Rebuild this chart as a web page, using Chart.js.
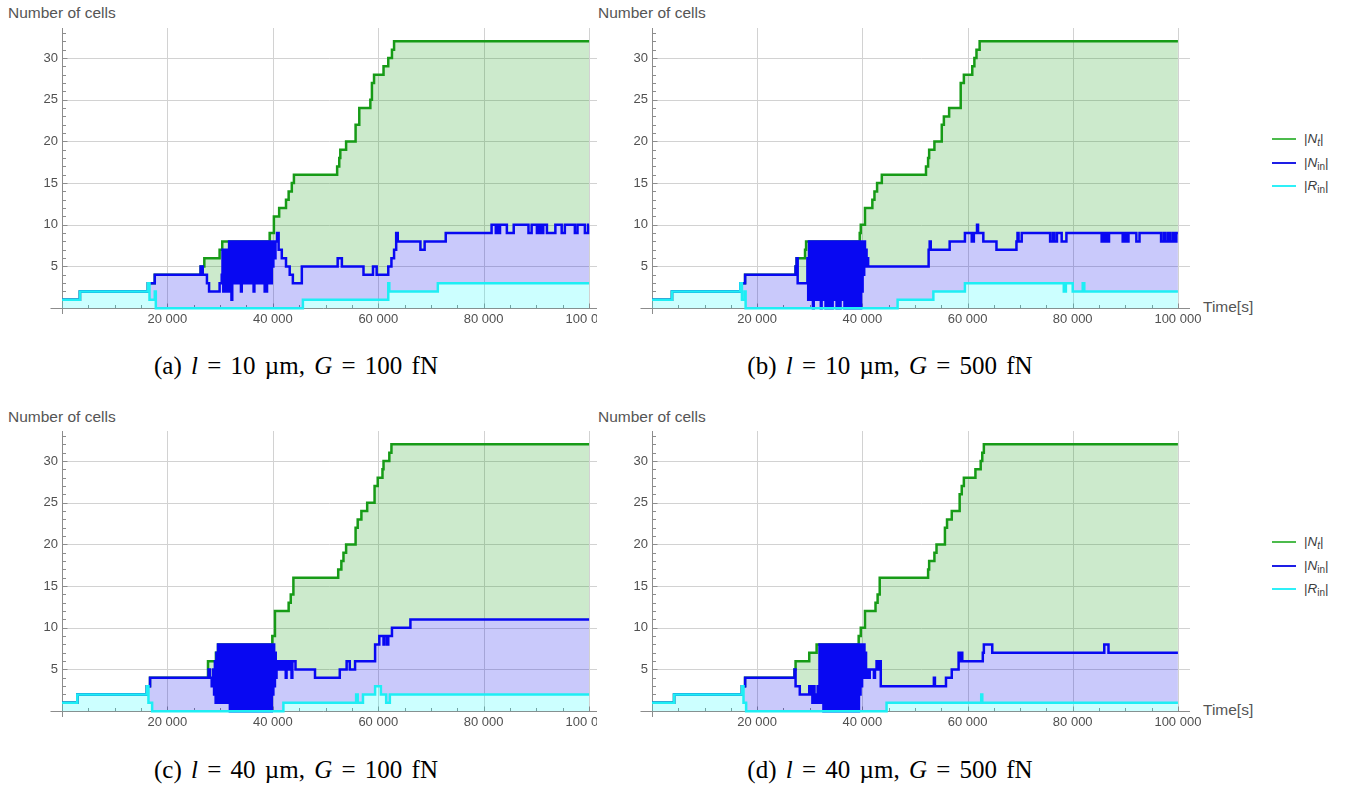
<!DOCTYPE html>
<html>
<head>
<meta charset="utf-8">
<script src="https://cdn.jsdelivr.net/npm/chart.js@4.4.0/dist/chart.umd.min.js"></script>
<style>
  body { margin: 0; background: #fff; width: 1354px; height: 787px; position: relative; overflow: hidden; font-family: "Liberation Sans", Arial, sans-serif; }
  canvas { position: absolute; }
  .axis-title { position: absolute; font-size: 15.5px; color: #555; white-space: nowrap; line-height: 18px; }
  .caption { position: absolute; font-family: "Liberation Serif", "DejaVu Serif", serif; font-size: 25px; word-spacing: 3px; color: #000; white-space: nowrap; transform: translateX(-50%); line-height: 28px; }
  .legend { position: absolute; left: 1272px; font-size: 13.5px; color: #3d3d3d; }
  .legend .item { height: 23.5px; line-height: 23.5px; white-space: nowrap; }
  .legend .swatch { display: inline-block; width: 24px; height: 2px; vertical-align: middle; margin-right: 8px; }
  .legend sub { font-size: 10px; vertical-align: -3px; line-height: 0; }
</style>
</head>
<body>

<canvas id="chartA" width="597" height="308" style="left:0px;top:28px"></canvas>
<canvas id="chartB" width="604" height="308" style="left:598px;top:28px"></canvas>
<canvas id="chartC" width="597" height="308" style="left:0px;top:431px"></canvas>
<canvas id="chartD" width="604" height="308" style="left:598px;top:431px"></canvas>

<div class="axis-title" style="left:8px;top:4px">Number of cells</div>
<div class="axis-title" style="left:598px;top:4px">Number of cells</div>
<div class="axis-title" style="left:8px;top:408px">Number of cells</div>
<div class="axis-title" style="left:598px;top:408px">Number of cells</div>
<div class="axis-title" style="left:1203px;top:298px">Time[s]</div>
<div class="axis-title" style="left:1203px;top:701px">Time[s]</div>

<div class="caption" style="left:296px;top:352px">(a) <i>l</i> = 10 µm, <i>G</i> = 100 fN</div>
<div class="caption" style="left:890px;top:352px">(b) <i>l</i> = 10 µm, <i>G</i> = 500 fN</div>
<div class="caption" style="left:296px;top:756px">(c) <i>l</i> = 40 µm, <i>G</i> = 100 fN</div>
<div class="caption" style="left:890px;top:756px">(d) <i>l</i> = 40 µm, <i>G</i> = 500 fN</div>

<div class="legend" style="top:127px">
  <div class="item"><span class="swatch" style="background:#4cbb4c"></span>|<i>N</i><sub><i>t</i></sub>|</div>
  <div class="item"><span class="swatch" style="background:#1e1ee6"></span>|<i>N</i><sub>in</sub>|</div>
  <div class="item"><span class="swatch" style="background:#2ef0f8"></span>|<i>R</i><sub>in</sub>|</div>
</div>
<div class="legend" style="top:530px">
  <div class="item"><span class="swatch" style="background:#4cbb4c"></span>|<i>N</i><sub><i>t</i></sub>|</div>
  <div class="item"><span class="swatch" style="background:#1e1ee6"></span>|<i>N</i><sub>in</sub>|</div>
  <div class="item"><span class="swatch" style="background:#2ef0f8"></span>|<i>R</i><sub>in</sub>|</div>
</div>

<script>
// axis ticks
const xTickValues = [20000, 40000, 60000, 80000, 100000];
const xTickLabels = ['20 000', '40 000', '60 000', '80 000', '100 000'];
const yTickValues = [5, 10, 15, 20, 25, 30];

// step series: [time, count], each value holds until the next time

// (a) l = 10, G = 100
const nTotA = [[0,1],[3400,2],[16300,3],[17600,4],[26300,5],[27000,6],[29900,7],[30400,8],[39400,9],[40200,11],[41200,12],[42500,13],[43000,14],[43600,15],[44000,16],[52200,17],[52600,18],[52800,19],[53900,20],[55700,22],[56400,24],[58500,25],[58800,27],[59200,28],[61000,29],[61900,30],[62600,31],[63000,32],[100000,32]];
const nInA = [[0,1],[3400,2],[16300,3],[17600,4],[26300,5],[26700,4],[27500,3],[27900,2],[29900,3],
  [30300,4],[30450,7],[30600,2],[30800,7],[30950,3],[31100,6],[31250,2],[31400,7],[31550,3],[31700,8],[31850,2],[32000,8],[32150,1],[32300,8],[32450,3],[32600,7],[32750,3],[32900,8],[33050,4],[33200,8],[33350,3],[33500,6],[33650,3],[33800,8],[33950,2],[34100,8],[34250,3],[34400,7],[34550,3],[34700,8],[34850,4],[35000,8],[35150,3],[35300,5],[35450,3],[35600,8],[35750,3],[35900,8],[36050,4],[36200,8],[36350,2],[36500,7],[36650,3],[36800,8],[36950,3],[37100,6],[37250,3],[37400,8],[37550,4],[37700,8],[37850,3],[38000,7],[38150,3],[38300,8],[38450,2],[38600,8],[38750,2],[38900,7],[39050,3],[39200,8],[39350,4],[39500,8],[39650,3],[39800,8],[39950,5],[40100,8],[40250,6],
  [40500,8],[40800,9],[41100,7],[41700,6],[42500,5],[43200,4],[43800,3],[45500,5],[52300,6],[53100,5],[57200,4],[59000,5],[59700,4],[61900,5],[62500,6],[63000,7],[63400,9],[63700,8],[68000,7],[68800,8],[72800,9],[81500,10],[82300,9],[82500,10],[82800,9],[83100,10],[84400,9],[85700,10],[88500,9],[89100,10],[90100,9],[90500,10],[90900,9],[91300,10],[92000,9],[93600,10],[94800,9],[95400,10],[97300,9],[97800,10],[99200,9],[99800,10],[100000,10]];
const rInA = [[0,1],[3400,2],[16300,3],[16600,1],[17600,2],[17800,0],[45700,1],[61900,3],[62100,2],[71300,3],[100000,3]];

// (b) l = 10, G = 500
const nTotB = [[0,1],[3800,2],[16800,3],[17700,4],[27300,5],[27500,6],[29100,7],[29300,8],[39500,9],[39700,10],[40500,12],[41900,13],[42300,14],[42800,15],[43700,16],[52100,17],[52500,18],[52700,19],[53700,20],[55100,22],[55500,23],[56500,24],[58700,27],[59300,28],[60900,29],[61300,30],[61700,31],[62300,32],[100000,32]];
const nInB = [[0,1],[3800,2],[16800,3],[17700,4],[27300,5],[27500,6],[27700,3],
  [29400,3],[29550,6],[29700,1],[29850,8],[30000,2],[30150,7],[30300,1],[30450,8],[30600,0],[30750,8],[30900,2],[31050,7],[31200,1],[31350,8],[31500,1],[31650,8],[31800,2],[31950,6],[32100,0],[32250,8],[32400,1],[32550,8],[32700,2],[32850,7],[33000,0],[33150,8],[33300,1],[33450,8],[33600,0],[33750,7],[33900,2],[34050,8],[34200,0],[34350,8],[34500,1],[34650,8],[34800,1],[34950,7],[35100,0],[35250,8],[35400,2],[35550,8],[35700,0],[35850,8],[36000,1],[36150,7],[36300,1],[36450,8],[36600,0],[36750,8],[36900,2],[37050,8],[37200,0],[37350,7],[37500,1],[37650,8],[37800,0],[37950,8],[38100,2],[38250,8],[38400,0],[38550,7],[38700,1],[38850,8],[39000,0],[39150,8],[39300,1],[39450,8],[39600,0],[39750,8],[39900,2],[40050,7],[40200,4],[40350,8],[40500,5],[40650,7],[40800,5],[40950,6],[41100,5],
  [52600,7],[52800,8],[53000,7],[56600,8],[59500,9],[60800,8],[61200,9],[61800,10],[62000,9],[63000,8],[65500,7],[69300,8],[69500,9],[69700,8],[70300,9],[75700,8],[76200,9],[76500,8],[77000,9],[77900,8],[78800,9],[85500,8],[85800,9],[86100,8],[86400,9],[86700,8],[86900,9],[89500,8],[89900,9],[90300,8],[90600,9],[92100,8],[92700,9],[96800,8],[97300,9],[97600,8],[98100,9],[98500,8],[99000,9],[99300,8],[99700,9],[100000,9]];
const rInB = [[0,1],[3800,2],[16800,3],[17100,1],[17600,2],[17800,0],[46700,1],[53500,2],[59500,3],[78300,2],[78700,3],[80000,2],[81900,3],[82200,2],[100000,2]];

// (c) l = 40, G = 100
const nTotC = [[0,1],[2900,2],[16100,3],[16700,4],[27700,6],[29200,7],[29600,8],[39900,9],[40400,12],[43000,13],[43400,14],[43900,16],[52400,17],[53000,18],[53400,19],[53900,20],[55700,22],[56100,23],[56800,24],[57900,25],[59300,27],[59900,28],[60800,29],[61000,30],[62100,31],[62500,32],[100000,32]];
const nInC = [[0,1],[2900,2],[16100,3],[16700,4],[27800,5],[28100,4],[28400,3],
  [28700,5],[28850,2],[29000,6],[29150,1],[29300,7],[29450,2],[29600,8],[29750,1],[29900,7],[30050,2],[30200,8],[30350,1],[30500,8],[30650,3],[30800,8],[30950,1],[31100,7],[31250,2],[31400,8],[31550,1],[31700,8],[31850,0],[32000,8],[32150,1],[32300,8],[32450,0],[32600,7],[32750,1],[32900,8],[33050,0],[33200,8],[33350,2],[33500,8],[33650,0],[33800,7],[33950,1],[34100,8],[34250,0],[34400,8],[34550,1],[34700,8],[34850,0],[35000,7],[35150,1],[35300,8],[35450,0],[35600,8],[35750,2],[35900,8],[36050,0],[36200,8],[36350,1],[36500,7],[36650,0],[36800,8],[36950,1],[37100,8],[37250,0],[37400,8],[37550,1],[37700,7],[37850,0],[38000,8],[38150,1],[38300,8],[38450,0],[38600,8],[38750,2],[38900,7],[39050,0],[39200,8],[39350,1],[39500,8],[39650,0],[39800,7],[39950,2],[40100,8],[40250,3],[40400,7],[40550,4],
  [40700,6],[40900,5],[41100,6],[41300,5],[41500,6],[41700,5],[41900,6],[42100,5],[42300,6],[42450,4],[42600,6],[42800,5],[43000,6],[43200,5],[43400,6],[43550,4],[43700,6],[44300,5],[48000,4],[52700,5],[54000,6],[54600,5],[55600,6],[59400,8],[60200,9],[61000,8],[61200,9],[61700,8],[61900,9],[62600,10],[66100,11],[100000,11]];
const rInC = [[0,1],[2900,2],[16100,3],[16400,1],[17100,0],[42000,1],[55800,2],[56100,1],[57100,2],[59400,3],[60500,2],[61500,1],[62200,2],[100000,2]];

// (d) l = 40, G = 500
const nTotD = [[0,1],[4200,2],[17100,3],[17700,4],[27100,5],[27300,6],[29900,7],[31300,8],[39300,9],[39700,10],[40500,12],[42500,13],[42900,14],[43300,16],[52500,17],[52700,18],[53700,19],[54100,20],[55700,22],[56100,23],[57000,24],[58500,26],[58900,27],[59300,28],[61500,29],[62500,30],[62800,31],[63100,32],[100000,32]];
const nInD = [[0,1],[4200,2],[17100,3],[17700,4],[27100,5],[27300,3],[28100,2],
  [29900,3],[30100,2],[30300,3],[30500,1],[30700,3],[30900,1],[31100,2],[31300,1],[31500,3],[31700,1],[31850,8],[32000,1],[32150,7],[32300,2],[32450,8],[32600,0],[32750,8],[32900,1],[33050,7],[33200,0],[33350,8],[33500,1],[33650,8],[33800,0],[33950,6],[34100,1],[34250,8],[34400,0],[34550,8],[34700,1],[34850,7],[35000,0],[35150,8],[35300,1],[35450,8],[35600,0],[35750,7],[35900,1],[36050,8],[36200,0],[36350,8],[36500,1],[36650,7],[36800,0],[36950,8],[37100,1],[37250,8],[37400,0],[37550,8],[37700,2],[37850,7],[38000,0],[38150,8],[38300,1],[38450,8],[38600,0],[38750,8],[38900,1],[39050,7],[39200,0],[39350,8],[39500,2],[39650,8],[39800,3],[39950,7],[40100,4],[40250,8],[40400,5],[40550,7],[40700,4],
  [40900,5],[41200,4],[41400,5],[42200,4],[42400,5],[42700,6],[43000,5],[43200,6],[43500,3],[53600,4],[53800,3],[55900,4],[57000,5],[58300,7],[58500,6],[58800,7],[59000,6],[62900,7],[63100,8],[64700,7],[86000,8],[86800,7],[100000,7]];
const rInD = [[0,1],[4200,2],[17100,3],[17400,1],[17900,0],[44600,1],[62600,2],[62800,1],[100000,1]];

const seriesStyles = [
    { label: '|Nt|', border: '#179b17', fill: 'rgba(0,150,0,0.2)', target: '+1', order: 3 },
    { label: '|Nin|', border: '#0808f2', fill: 'rgba(0,0,235,0.21)', target: '+1', order: 2 },
    { label: '|Rin|', border: '#1eeef4', fill: 'rgba(0,255,255,0.2)', target: 'origin', order: 1 }
];

const panels = [
    { id: 'chartA', series: [nTotA, nInA, rInA], yAxisWidth: 62, xMax: 101500, padRight: 0 },
    { id: 'chartB', series: [nTotB, nInB, rInB], yAxisWidth: 54, xMax: 102300, padRight: 12 },
    { id: 'chartC', series: [nTotC, nInC, rInC], yAxisWidth: 62, xMax: 101500, padRight: 0 },
    { id: 'chartD', series: [nTotD, nInD, rInD], yAxisWidth: 54, xMax: 102300, padRight: 12 }
];

const tickFont = { family: '"Liberation Sans", Arial, sans-serif', size: 13 };

// keep the plot area fixed: no extra room for overhanging tick labels
const noPadding = scale => {
    scale.paddingLeft = 0;
    scale.paddingRight = 0;
    scale.paddingTop = 0;
    scale.paddingBottom = 0;
};

// grid, axes through the origin and small tick marks
const frame = {
    id: 'frame',
    beforeDatasetsDraw(chart) {
        const { ctx, chartArea, scales: { x, y } } = chart;
        const x0 = Math.round(x.getPixelForValue(0)) + 0.5;
        const y0 = Math.round(y.getPixelForValue(0)) + 0.5;
        ctx.save();
        ctx.lineWidth = 1;
        ctx.strokeStyle = '#d2d2d2';
        ctx.beginPath();
        yTickValues.forEach(v => {
            const py = Math.round(y.getPixelForValue(v)) + 0.5;
            ctx.moveTo(x0, py);
            ctx.lineTo(chartArea.right, py);
        });
        xTickValues.forEach(v => {
            const px = Math.round(x.getPixelForValue(v)) + 0.5;
            ctx.moveTo(px, chartArea.top);
            ctx.lineTo(px, y0);
        });
        ctx.stroke();

        ctx.strokeStyle = '#8c8c8c';
        ctx.beginPath();
        ctx.moveTo(x0, chartArea.top);
        ctx.lineTo(x0, chartArea.bottom);
        ctx.moveTo(x0 - 12, y0);
        ctx.lineTo(chartArea.right, y0);
        for (let t = 5000; t <= 100000; t += 5000) {
            const px = Math.round(x.getPixelForValue(t)) + 0.5;
            ctx.moveTo(px, y0);
            ctx.lineTo(px, y0 - (t % 20000 === 0 ? 5 : 3.5));
        }
        for (let v = 1; v <= 33; v++) {
            const py = Math.round(y.getPixelForValue(v)) + 0.5;
            ctx.moveTo(x0, py);
            ctx.lineTo(x0 + (v % 5 === 0 ? 5 : 3.5), py);
        }
        ctx.stroke();
        ctx.restore();
    }
};

panels.forEach(panel => {
    new Chart(document.getElementById(panel.id), {
        type: 'line',
        data: {
            datasets: panel.series.map((points, i) => ({
                label: seriesStyles[i].label,
                data: points,
                stepped: true,
                borderColor: seriesStyles[i].border,
                backgroundColor: seriesStyles[i].fill,
                fill: seriesStyles[i].target,
                order: seriesStyles[i].order,
                borderWidth: 2.5,
                pointRadius: 0
            }))
        },
        options: {
            responsive: false,
            animation: false,
            devicePixelRatio: 1,
            events: [],
            layout: { padding: { left: 0, top: 0, bottom: 0, right: panel.padRight }, autoPadding: false },
            plugins: {
                legend: { display: false },
                tooltip: { enabled: false }
            },
            scales: {
                x: {
                    type: 'linear',
                    min: 0,
                    max: panel.xMax,
                    grid: { display: false, drawTicks: false },
                    border: { display: false },
                    afterBuildTicks: scale => { scale.ticks = xTickValues.map(value => ({ value })); },
                    afterFit: scale => { scale.height = 22; noPadding(scale); },
                    ticks: {
                        autoSkip: false,
                        maxRotation: 0,
                        padding: -2,
                        color: '#505050',
                        font: tickFont,
                        callback: (value, index) => xTickLabels[index]
                    }
                },
                y: {
                    min: -0.7,
                    max: 33.6,
                    grid: { display: false, drawTicks: false },
                    border: { display: false },
                    afterBuildTicks: scale => { scale.ticks = yTickValues.map(value => ({ value })); },
                    afterFit: scale => { scale.width = panel.yAxisWidth; noPadding(scale); },
                    ticks: {
                        padding: 4,
                        color: '#505050',
                        font: tickFont,
                        callback: value => String(value)
                    }
                }
            }
        },
        plugins: [frame]
    });
});
</script>
</body>
</html>
